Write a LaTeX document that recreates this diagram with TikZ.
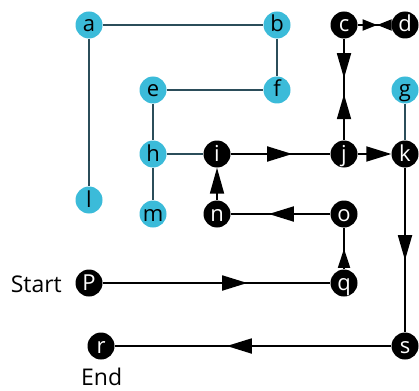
\documentclass[tikz,border=0pt]{standalone}
\usepackage{fontspec}
\setmainfont{Open Sans}
\usetikzlibrary{arrows.meta,decorations.markings}
\definecolor{cyanfill}{HTML}{3BBBD9}
\definecolor{slateline}{HTML}{2B4D5A}
\tikzset{
  vtx/.style={circle, minimum size=27pt, inner sep=0pt, font=\fontsize{22}{22}\selectfont, text height=15pt, text depth=1pt},
  cnode/.style={vtx, fill=cyanfill, text=black},
  bnode/.style={vtx, fill=black, text=white},
  sline/.style={draw=slateline, line width=1.8pt},
  bline/.style={draw=black, line width=1.8pt},
  bigtri/.tip={Triangle[length=25pt,width=15pt]},
  vtri/.tip={Triangle[length=25pt,width=14pt]},
  bowtri/.tip={Triangle[length=14.5pt,width=11pt]},
  shorttri/.tip={Triangle[length=19pt,width=12pt]},
  tipat/.style 2 args={postaction={decorate}, decoration={markings, mark=at position #1 with {\arrow{#2}}}},
  twotips/.style n args={3}{postaction={decorate}, decoration={markings,
      mark=at position #1 with {\arrow{#3}},
      mark=at position #2 with {\arrowreversed{#3}}}},
  lbl/.style={font=\fontsize{23}{23}\selectfont, inner sep=0pt}
}
\begin{document}
\begin{tikzpicture}[x=1pt, y=-1pt]
\useasboundingbox (0,0) rectangle (419,390);
% nodes
\node[cnode] (a) at (89,25) {a};
\node[cnode] (b) at (277,25) {b};
\node[bnode] (c) at (344,25) {c};
\node[bnode] (d) at (405,25) {d};
\node[cnode] (e) at (153,90) {e};
\node[cnode] (f) at (277,90) {f};
\node[cnode] (g) at (405,90) {g};
\node[cnode] (h) at (153,154) {h};
\node[bnode] (i) at (217,154) {i};
\node[bnode] (j) at (344,154) {j};
\node[bnode] (k) at (405,154) {k};
\node[cnode] (l) at (89,200) {l};
\node[cnode] (m) at (153,214) {m};
\node[bnode] (n) at (217,214) {n};
\node[bnode] (o) at (344,214) {o};
\node[bnode] (p) at (89,283) {P};
\node[bnode] (q) at (344,283) {q};
\node[bnode] (r) at (101,346) {r};
\node[bnode] (s) at (405,346) {s};
\node[lbl, anchor=base east] (start) at (62,292) {Start};
\node[lbl, anchor=base west] (end) at (81,385) {End};
% slate edges
\draw[sline] (a) -- (b);
\draw[sline] (b) -- (f);
\draw[sline] (e) -- (f);
\draw[sline] (a) -- (l);
\draw[sline] (e) -- (h);
\draw[sline] (h) -- (m);
\draw[sline] (h) -- (i);
\draw[sline] (g) -- (k);
% black edges
\draw[bline, twotips={19.5pt}{19.5pt}{bowtri}] (c) -- (d);
\draw[bline, twotips={39.5pt}{55.5pt}{vtri}] (c) -- (j);
\draw[bline, tipat={61.5pt}{bigtri}] (i) -- (j);
\draw[bline, -{bigtri}] (j) -- (k);
\draw[bline, tipat={92.5pt}{vtri}] (k) -- (s);
\draw[bline, tipat={164.5pt}{bigtri}] (s) -- (r);
\draw[bline, tipat={144.5pt}{bigtri}] (p) -- (q);
\draw[bline, tipat={20.5pt}{shorttri}] (q) -- (o);
\draw[bline, tipat={61.5pt}{bigtri}] (o) -- (n);
\draw[bline, -{Triangle[length=26pt,width=14pt]}] (n) -- (i);
\end{tikzpicture}
\end{document}
